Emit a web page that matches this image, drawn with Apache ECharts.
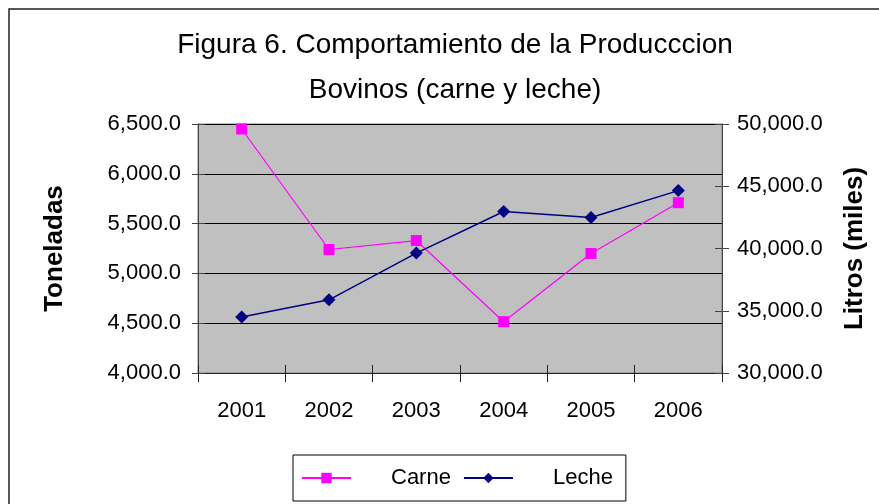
<!DOCTYPE html>
<html>
<head>
<meta charset="utf-8">
<script src="https://cdn.jsdelivr.net/npm/echarts@6/dist/echarts.min.js"></script>
<style>
  html, body { margin: 0; padding: 0; background: #fff; }
  #main { width: 879px; height: 504px; }
</style>
</head>
<body>
<div id="main"></div>
<script>
var years = ['2001', '2002', '2003', '2004', '2005', '2006'];
var carne = [6450, 5240, 5330, 4515, 5200, 5710];
var leche = [34490, 35880, 39630, 42970, 42490, 44650];

var font = 'Liberation Sans, Arial, sans-serif';

function fmt(v) {
    return v.toLocaleString('en-US', { minimumFractionDigits: 1, maximumFractionDigits: 1 });
}

var myChart = echarts.init(document.getElementById('main'));

var option = {
    backgroundColor: '#fff',
    animation: false,
    title: {
        text: 'Figura 6. Comportamiento de la Producccion\nBovinos (carne y leche)',
        left: 450,
        top: 18,
        textAlign: 'center',
        textStyle: {
            fontFamily: font,
            fontSize: 28,
            fontWeight: 'normal',
            color: '#000',
            lineHeight: 45
        }
    },
    graphic: [{
        type: 'rect',
        shape: { x: 9, y: 9, width: 900, height: 600 },
        style: { fill: 'none', stroke: '#222', lineWidth: 1.5 },
        z: -1
    }],
    legend: {
        data: ['Carne', 'Leche'],
        left: 293,
        top: 455,
        padding: [12, 13, 12, 8],
        itemGap: 12,
        itemWidth: 49,
        itemHeight: 13,
        borderColor: '#000',
        borderWidth: 1,
        backgroundColor: '#fff',
        textStyle: {
            fontFamily: font,
            fontSize: 22,
            color: '#000',
            padding: [0, 0, 0, 35]
        }
    },
    grid: {
        left: 198,
        right: 157,
        top: 124,
        bottom: 131,
        show: true,
        backgroundColor: '#c0c0c0',
        borderColor: '#808080',
        borderWidth: 1
    },
    xAxis: [{
        type: 'category',
        data: years,
        boundaryGap: true,
        axisLine: { lineStyle: { color: '#222', width: 1 } },
        axisTick: { show: true, interval: 0, length: 9, lineStyle: { color: '#222' } },
        axisLabel: { fontFamily: font, fontSize: 22, color: '#000', margin: 27 }
    }, {
        type: 'category',
        data: years,
        position: 'bottom',
        boundaryGap: true,
        axisLine: { show: false },
        axisTick: { show: true, inside: true, interval: 0, length: 8, lineStyle: { color: '#222' } },
        axisLabel: { show: false }
    }],
    yAxis: [{
        type: 'value',
        position: 'left',
        min: 4000,
        max: 6500,
        interval: 500,
        name: 'Toneladas',
        nameLocation: 'middle',
        nameRotate: 90,
        nameGap: 130,
        nameTextStyle: { fontFamily: font, fontSize: 26, fontWeight: 'bold', color: '#000' },
        axisLine: { show: true, lineStyle: { color: '#444' } },
        axisTick: { show: true, length: 6, lineStyle: { color: '#444' } },
        axisLabel: { fontFamily: font, fontSize: 22, color: '#000', margin: 17, formatter: fmt },
        splitLine: { show: true, lineStyle: { color: '#000', width: 1 } }
    }, {
        type: 'value',
        position: 'right',
        min: 30000,
        max: 50000,
        interval: 5000,
        name: 'Litros (miles)',
        nameLocation: 'middle',
        nameRotate: 90,
        nameGap: 120,
        nameTextStyle: { fontFamily: font, fontSize: 26, fontWeight: 'bold', color: '#000' },
        axisLine: { show: true, lineStyle: { color: '#444' } },
        axisTick: { show: true, length: 7, lineStyle: { color: '#444' } },
        axisLabel: { fontFamily: font, fontSize: 22, color: '#000', margin: 15, formatter: fmt },
        splitLine: { show: false }
    }, {
        type: 'value',
        position: 'left',
        min: 4000,
        max: 6500,
        interval: 500,
        axisLine: { show: false },
        axisTick: { show: true, inside: true, length: 7, lineStyle: { color: '#444' } },
        axisLabel: { show: false },
        splitLine: { show: false }
    }, {
        type: 'value',
        position: 'right',
        min: 30000,
        max: 50000,
        interval: 5000,
        axisLine: { show: false },
        axisTick: { show: true, inside: true, length: 7, lineStyle: { color: '#444' } },
        axisLabel: { show: false },
        splitLine: { show: false }
    }],
    series: [{
        name: 'Carne',
        type: 'line',
        data: carne,
        yAxisIndex: 0,
        symbol: 'rect',
        symbolSize: 11,
        color: '#ff00ff',
        lineStyle: { width: 1.2, color: '#ff00ff' },
        itemStyle: { color: '#ff00ff' }
    }, {
        name: 'Leche',
        type: 'line',
        data: leche,
        yAxisIndex: 1,
        symbol: 'diamond',
        symbolSize: 13,
        color: '#000080',
        lineStyle: { width: 1.5, color: '#000080' },
        itemStyle: { color: '#000080' }
    }]
};

myChart.setOption(option);
</script>
</body>
</html>
